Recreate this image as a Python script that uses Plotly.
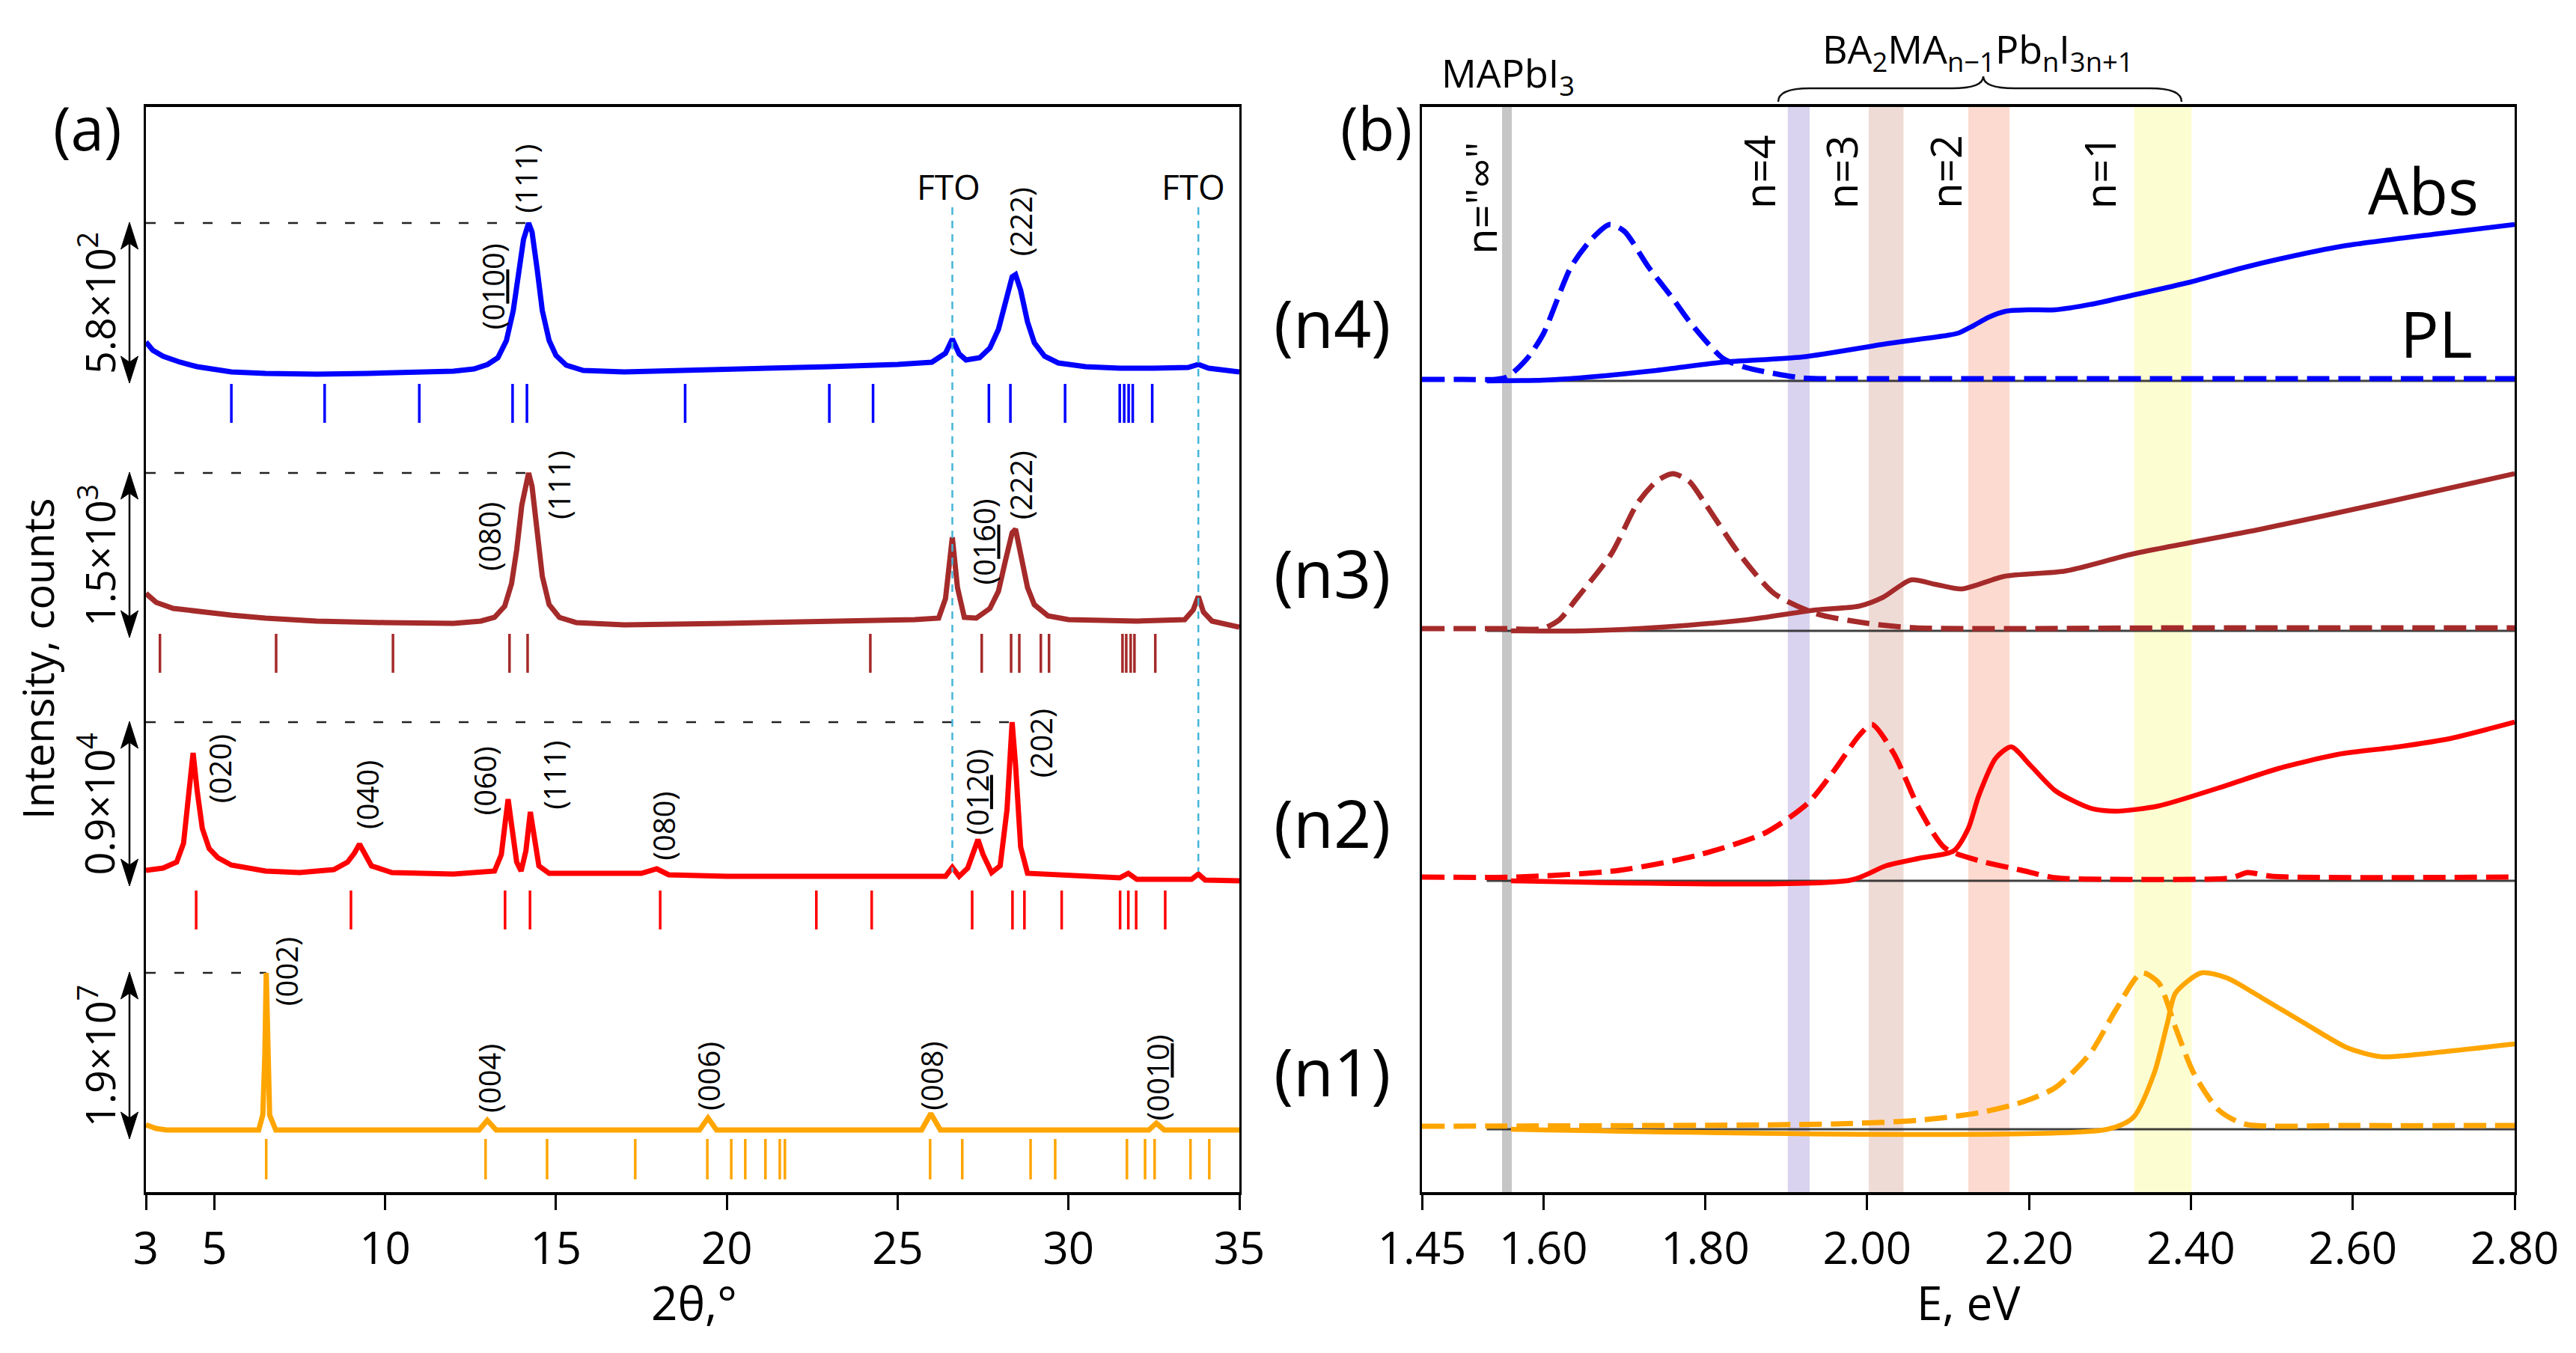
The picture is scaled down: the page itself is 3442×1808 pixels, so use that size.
import plotly.graph_objects as go

W, H = 3442, 1808
OFF = 8  # page body margin in the browser
FONT = "Open Sans"

# ---------------- panel (a): XRD, 2theta (deg) and height above each row baseline
blue_tt = [3.0, 3.2, 3.5, 4.0, 4.5, 5.0, 5.5, 6.5, 8, 9.5, 11, 12, 12.6, 13.0, 13.3, 13.55, 13.75, 13.9, 14.05,
           14.2, 14.3, 14.45, 14.6, 14.8, 15.0, 15.3, 15.8, 17, 19, 21, 23, 25, 26.0, 26.4, 26.6, 26.8, 27.0,
           27.4, 27.7, 27.95, 28.15, 28.35, 28.45, 28.6, 28.8, 29.0, 29.3, 29.7, 30.5, 31.5, 32.5, 33.5, 33.8,
           34.1, 35]
blue_h = [43, 32, 24, 16, 10, 6, 3, 1, 0, 1, 2, 4, 7, 13, 22, 45, 85, 130, 180,
          202, 190, 140, 85, 45, 25, 12, 5, 3, 5, 7, 10, 13, 16, 28, 47, 27, 19,
          22, 35, 60, 95, 130, 133, 112, 70, 42, 24, 15, 10, 8, 8, 9, 13,
          8, 3]

brown_tt = [3.0, 3.3, 3.8, 4.5, 5.5, 6.5, 8, 10, 12, 12.8, 13.2, 13.5, 13.7, 13.85, 14.0, 14.2, 14.3, 14.45,
            14.6, 14.8, 15.1, 15.6, 17, 20, 23, 25.5, 26.2, 26.4, 26.6, 26.75, 26.95, 27.3, 27.7, 27.95,
            28.15, 28.35, 28.45, 28.6, 28.8, 29.0, 29.4, 30, 32, 33.4, 33.65, 33.8, 33.95, 34.2, 35]
brown_h = [47, 35, 27, 23, 18, 14, 10, 8, 7, 10, 15, 30, 60, 105, 165, 208, 190, 130,
           70, 32, 15, 8, 5, 7, 9, 12, 14, 40, 122, 55, 15, 14, 27, 50,
           90, 128, 133, 100, 55, 32, 17, 12, 10, 12, 25, 43, 22, 10, 2]

red_tt = [3.0, 3.5, 3.9, 4.1, 4.25, 4.38, 4.5, 4.65, 4.85, 5.1, 5.5, 6.5, 7.5, 8.5, 8.9, 9.1, 9.25, 9.4, 9.6,
          10.2, 12, 13.2, 13.4, 13.52, 13.6, 13.7, 13.85, 13.98, 14.12, 14.25, 14.35, 14.5, 14.8, 17.5, 17.95,
          18.3, 20, 25, 26.4, 26.6, 26.8, 27.05, 27.25, 27.35, 27.5, 27.75, 28.0, 28.2, 28.35, 28.45, 28.6,
          28.8, 31.5, 31.75, 32.0, 33.6, 33.8, 34.0, 35]
red_h = [9, 12, 20, 45, 110, 166, 115, 65, 38, 26, 16, 8, 6, 10, 20, 32, 44, 30, 15,
         6, 4, 8, 30, 75, 104, 70, 20, 8, 35, 87, 55, 15, 5, 5, 11,
         3, 1, 0, 1, 13, 1, 12, 40, 50, 30, 6, 15, 90, 207, 150, 40,
         5, -1, 5, -3, -3, 4, -4, -5]

orange_tt = [3.0, 3.3, 3.6, 6.3, 6.42, 6.48, 6.52, 6.56, 6.62, 6.8, 12.75, 12.99, 13.25, 19.2, 19.45, 19.7,
             25.7, 25.97, 26.25, 32.35, 32.57, 32.8, 35]
orange_h = [7, 2, 0, 0, 20, 100, 210, 100, 20, 0, 0, 13, 0, 0, 16, 0,
            0, 22, 0, 0, 9, 0, 0]

# reference (Bragg) positions
blue_ref = [5.50, 8.23, 11.0, 13.73, 14.15, 18.78, 23.0, 24.28, 27.67, 28.3, 29.9, 31.5, 31.63, 31.76, 31.88, 32.45]
brown_ref = [3.41, 6.81, 10.23, 13.64, 14.17, 24.2, 27.46, 28.32, 28.56, 29.19, 29.43, 31.58, 31.69, 31.82,
             31.93, 32.54]
red_ref = [4.47, 9.0, 13.51, 14.24, 18.05, 22.62, 24.24, 27.18, 28.36, 28.71, 29.8, 31.51, 31.75, 31.98, 32.83]
orange_ref = [6.52, 12.94, 14.74, 17.32, 19.43, 20.13, 20.54, 21.13, 21.55, 21.70, 25.95, 26.89, 28.89, 29.61,
              31.71, 32.24, 32.52, 33.57, 34.12]

# scale bars
scale_text = ["5.8×10<sup>2</sup>", "1.5×10<sup>3</sup>", "0.9×10<sup>4</sup>", "1.9×10<sup>7</sup>"]
peak_pos = [14.2, 14.2, 28.35, 6.52]
fto_pos = [26.6, 33.8]

# miller labels: (text, 2theta, height level)
blue_hkl = [("(0<u>10</u>0)", 13.15, 1210), ("(111)", 14.12, 1354), ("(222)", 28.59, 1297)]
brown_hkl = [("(080)", 13.03, 876), ("(111)", 15.07, 945), ("(0<u>16</u>0)", 27.52, 869), ("(222)", 28.59, 945)]
red_hkl = [("(020)", 5.15, 566), ("(040)", 9.46, 531), ("(060)", 12.91, 550), ("(111)", 14.93, 557),
           ("(080)", 18.13, 489), ("(0<u>12</u>0)", 27.31, 535), ("(202)", 29.18, 600)]
orange_hkl = [("(002)", 7.1, 295), ("(004)", 13.03, 152), ("(006)", 19.45, 155), ("(008)", 25.97, 155),
              ("(00<u>10</u>)", 32.6, 153)]

# ---------------- panel (b): Abs (solid) and PL (dashed), E in eV
n4_pl_e = [1.45, 1.50, 1.54, 1.555, 1.58, 1.60, 1.634, 1.66, 1.682, 1.70, 1.73, 1.76, 1.78, 1.822, 1.85, 1.88,
           1.92, 2.00, 2.20, 2.40, 2.60, 2.80]
n4_pl_h = [2, 2, 2, 5, 30, 63, 152, 190, 209, 200, 152, 110, 80, 30, 18, 11, 4, 3, 3, 3, 3, 3]
n4_abs_e = [1.53, 1.60, 1.645, 1.74, 1.822, 1.92, 2.026, 2.06, 2.10, 2.113, 2.13, 2.15, 2.171, 2.20, 2.232,
            2.28, 2.326, 2.399, 2.46, 2.514, 2.587, 2.70, 2.80]
n4_abs_h = [0, 1, 4, 14, 25, 32, 50, 55, 61, 64, 73, 85, 93, 95, 95, 103, 114, 132, 150, 164, 180, 196, 209]

n3_pl_e = [1.45, 1.55, 1.599, 1.62, 1.641, 1.684, 1.716, 1.74, 1.760, 1.78, 1.80, 1.842, 1.885, 1.937, 2.001,
           2.06, 2.40, 2.80]
n3_pl_h = [3, 3, 3, 15, 43, 103, 170, 200, 210, 200, 170, 103, 50, 23, 10, 4, 4, 4]
n3_abs_e = [1.56, 1.65, 1.747, 1.853, 1.937, 1.99, 2.02, 2.054, 2.085, 2.117, 2.17, 2.245, 2.329, 2.487, 2.646,
            2.80]
n3_abs_h = [0, 0, 5, 15, 28, 33, 45, 68, 62, 56, 73, 80, 103, 136, 173, 210]

n2_pl_e = [1.45, 1.567, 1.694, 1.79, 1.874, 1.927, 1.959, 1.99, 2.006, 2.033, 2.064, 2.096, 2.138, 2.191, 2.233,
           2.30, 2.45, 2.47, 2.50, 2.80]
n2_pl_h = [5, 5, 14, 34, 64, 104, 147, 194, 209, 170, 97, 44, 27, 14, 4, 2, 4, 11, 6, 5]
n2_abs_e = [1.56, 1.98, 2.023, 2.064, 2.107, 2.125, 2.138, 2.159, 2.178, 2.202, 2.233, 2.276, 2.307, 2.36, 2.434,
            2.508, 2.582, 2.656, 2.72, 2.80]
n2_abs_h = [0, 1, 20, 30, 40, 70, 114, 164, 179, 154, 120, 97, 93, 100, 124, 150, 169, 179, 190, 212]

n1_pl_e = [1.45, 1.959, 2.064, 2.138, 2.191, 2.233, 2.276, 2.307, 2.339, 2.36, 2.381, 2.403, 2.434, 2.466, 2.60,
           2.80]
n1_pl_h = [4, 7, 12, 22, 36, 56, 102, 159, 209, 196, 136, 76, 26, 7, 5, 5]
n1_abs_e = [1.56, 2.297, 2.329, 2.355, 2.371, 2.381, 2.413, 2.445, 2.487, 2.54, 2.593, 2.635, 2.699, 2.80]
n1_abs_h = [0, 0, 16, 76, 142, 182, 209, 202, 176, 142, 109, 97, 102, 114]

# bands (eV) for MAPbI3 and n = 4, 3, 2, 1
bands = [(1.549, 1.561), (1.902, 1.929), (2.002, 2.045), (2.125, 2.176), (2.330, 2.401)]
band_colors = ["#c6c6c6", "#d9d3ef", "#efdbd5", "#fddacf", "#fdfdd2"]
n_labels = ['n="∞"', "n=4", "n=3", "n=2", "n=1"]
n_label_pos = [1.522, 1.866, 1.968, 2.096, 2.287]
row_names = ["(n4)", "(n3)", "(n2)", "(n1)"]

COLORS = ["#0000ff", "#a52a2a", "#ff0000", "#ffa500"]
# stacking offsets (same vertical units on both panels)
base_a = [1093, 753, 421, 83]
base_b = [1084, 750, 416, 84]


def px(x):
    return (x - OFF) / W


def py(y):
    return 1 - (y - OFF) / H


fig = go.Figure()

# ---- panel (a)
xrd = [(blue_tt, blue_h), (brown_tt, brown_h), (red_tt, red_h), (orange_tt, orange_h)]
refs = [blue_ref, brown_ref, red_ref, orange_ref]
tick_off = [(13, 65), (7, 59), (18, 70), (12, 66)]
for i in range(4):
    tt, hh = xrd[i]
    b = base_a[i]
    # reference sticks
    rx, ry = [], []
    for r in refs[i]:
        rx += [r, r, None]
        ry += [b - tick_off[i][0], b - tick_off[i][1], None]
    fig.add_trace(go.Scatter(x=rx, y=ry, mode="lines", line=dict(color=COLORS[i], width=3.5),
                             xaxis="x", yaxis="y", hoverinfo="skip"))
    # dashed intensity reference
    top = b + max(hh)
    fig.add_trace(go.Scatter(x=[3.0, peak_pos[i]], y=[top, top], mode="lines",
                             line=dict(color="#222222", width=2.7, dash="13px,25px"),
                             xaxis="x", yaxis="y", hoverinfo="skip"))
    fig.add_trace(go.Scatter(x=tt, y=[b + v for v in hh], mode="lines",
                             line=dict(color=COLORS[i], width=7),
                             xaxis="x", yaxis="y"))

for f in fto_pos:
    fig.add_trace(go.Scatter(x=[f, f], y=[1316, 428], mode="lines",
                             line=dict(color="#45b5d9", width=2.5, dash="10px,8px"),
                             xaxis="x", yaxis="y", hoverinfo="skip"))

# ---- panel (b)
pl = [(n4_pl_e, n4_pl_h), (n3_pl_e, n3_pl_h), (n2_pl_e, n2_pl_h), (n1_pl_e, n1_pl_h)]
ab = [(n4_abs_e, n4_abs_h), (n3_abs_e, n3_abs_h), (n2_abs_e, n2_abs_h), (n1_abs_e, n1_abs_h)]
for i in range(4):
    b = base_b[i]
    fig.add_trace(go.Scatter(x=[1.53, 2.80], y=[b, b], mode="lines",
                             line=dict(color="rgba(30,30,30,0.85)", width=3),
                             xaxis="x2", yaxis="y2", hoverinfo="skip"))
    fig.add_trace(go.Scatter(x=pl[i][0], y=[b + v for v in pl[i][1]], mode="lines",
                             line=dict(color=COLORS[i], width=7, dash="30px,12px", shape="spline",
                                       smoothing=0.7),
                             xaxis="x2", yaxis="y2"))
    fig.add_trace(go.Scatter(x=ab[i][0], y=[b + v for v in ab[i][1]], mode="lines",
                             line=dict(color=COLORS[i], width=6.5, shape="spline", smoothing=0.7),
                             xaxis="x2", yaxis="y2"))

shapes = []
for (e0, e1), c in zip(bands, band_colors):
    shapes.append(dict(type="rect", xref="x2", yref="y2", x0=e0, x1=e1, y0=0, y1=1450,
                       fillcolor=c, line=dict(width=0), layer="below"))

# curly brace above panel (b)
bx0, bx1, bxc, yb, ym, yt, r = 2376, 2915, 2650, 136, 118, 102, 42
pts = [("M", bx0, yb), ("Q", bx0, ym, bx0 + r, ym), ("L", bxc - r, ym), ("Q", bxc, ym, bxc, yt),
       ("Q", bxc, ym, bxc + r, ym), ("L", bx1 - r, ym), ("Q", bx1, ym, bx1, yb)]
path = ""
for p in pts:
    coords = p[1:]
    s = " ".join(f"{px(coords[k]):.5f},{py(coords[k + 1]):.5f}" for k in range(0, len(coords), 2))
    path += f"{p[0]} {s} "
shapes.append(dict(type="path", xref="paper", yref="paper", path=path.strip(),
                   line=dict(color="#111111", width=2.5)))

# double-headed scale arrows left of panel (a): shaft + two filled heads
ax_x = px(173)
hw = 11.5 / W
hl = 36
for i in range(4):
    b = base_a[i]
    top = b + max(xrd[i][1]) + 1
    lo = b - 12
    shapes.append(dict(type="line", xref="paper", yref="y", x0=ax_x, x1=ax_x, y0=lo + 10, y1=top - 10,
                       line=dict(color="black", width=2.5)))
    shapes.append(dict(type="path", xref="paper", yref="y",
                       path=f"M {ax_x:.5f},{top} L {ax_x - hw:.5f},{top - hl} L {ax_x:.5f},{top - hl + 8} "
                            f"L {ax_x + hw:.5f},{top - hl} Z",
                       fillcolor="black", line=dict(color="black", width=1)))
    shapes.append(dict(type="path", xref="paper", yref="y",
                       path=f"M {ax_x:.5f},{lo} L {ax_x - hw:.5f},{lo + hl} L {ax_x:.5f},{lo + hl - 8} "
                            f"L {ax_x + hw:.5f},{lo + hl} Z",
                       fillcolor="black", line=dict(color="black", width=1)))

ann = []
txt = dict(family=FONT, color="black")


def label(**kw):
    d = dict(showarrow=False, xanchor="center", yanchor="middle")
    d.update(kw)
    ann.append(d)


for i in range(4):
    b = base_a[i]
    top = b + max(xrd[i][1])
    lo = b - 12
    label(xref="paper", yref="y", x=px(130), y=(top + lo) / 2, text=scale_text[i], textangle=-90,
          font=dict(size=54, **txt))

for lst in [blue_hkl, brown_hkl, red_hkl, orange_hkl]:
    for t, xx, yy in lst:
        label(xref="x", yref="y", x=xx, y=yy, text=t, textangle=-90, font=dict(size=40, **txt))

for f, xl in zip(fto_pos, [26.5, 33.66]):
    label(xref="x", yref="y", x=xl, y=1344, text="FTO", font=dict(size=46, **txt))

label(xref="paper", yref="y", x=px(50), y=712, text="Intensity, counts", textangle=-90,
      font=dict(size=56, **txt))
label(xref="paper", yref="paper", x=px(927), y=py(1740), text="2θ,°", font=dict(size=62, **txt))
label(xref="paper", yref="paper", x=px(117), y=py(170), text="(a)", font=dict(size=80, **txt))

# panel (b) text
label(xref="paper", yref="paper", x=px(1839), y=py(170), text="(b)", font=dict(size=80, **txt))
for name, b in zip(row_names, base_b):
    label(xref="paper", yref="y2", x=px(1780), y=b + 78, text=name, font=dict(size=88, **txt))
for t, e in zip(n_labels, n_label_pos):
    label(xref="x2", yref="y2", x=e, y=1363 if t != n_labels[0] else 1328, text=t, textangle=-90,
          font=dict(size=56, **txt))
label(xref="x2", yref="y2", x=2.687, y=1339, text="Abs", font=dict(size=86, **txt))
label(xref="x2", yref="y2", x=2.703, y=1149, text="PL", font=dict(size=86, **txt))
label(xref="x2", yref="paper", x=1.556, y=py(100), text="MAPbI<sub>3</sub>", font=dict(size=52, **txt))
label(xref="x2", yref="paper", x=2.137, y=py(68),
      text="BA<sub>2</sub>MA<sub>n−1</sub>Pb<sub>n</sub>I<sub>3n+1</sub>", font=dict(size=52, **txt))
label(xref="paper", yref="paper", x=px(2630), y=py(1740), text="E, eV", font=dict(size=62, **txt))

ax_common = dict(showgrid=False, zeroline=False, showline=True, mirror=True, linecolor="black",
                 linewidth=3.5, ticks="outside", ticklen=20, tickwidth=3, tickcolor="black",
                 tickfont=dict(family=FONT, size=60, color="black"))
ay_common = dict(showgrid=False, zeroline=False, showline=True, mirror=True, linecolor="black",
                 linewidth=3, showticklabels=False, ticks="", range=[0, 1450],
                 domain=[py(1593), py(143)])

e_ticks = [1.45, 1.60, 1.80, 2.00, 2.20, 2.40, 2.60, 2.80]
fig.update_layout(
    width=W, height=H,
    margin=dict(l=0, r=0, t=0, b=0, autoexpand=False),
    paper_bgcolor="white", plot_bgcolor="white",
    showlegend=False,
    font=dict(family=FONT, color="black"),
    xaxis=dict(domain=[px(195), px(1656)], range=[3, 35], tickvals=[3, 5, 10, 15, 20, 25, 30, 35],
               anchor="y", **ax_common),
    yaxis=dict(anchor="x", **ay_common),
    xaxis2=dict(domain=[px(1900), px(3360)], range=[1.45, 2.80], tickvals=e_ticks,
                ticktext=[f"{v:.2f}" for v in e_ticks], anchor="y2", **ax_common),
    yaxis2=dict(anchor="x2", **ay_common),
    shapes=shapes,
    annotations=ann,
)

fig.write_html("out.html")
